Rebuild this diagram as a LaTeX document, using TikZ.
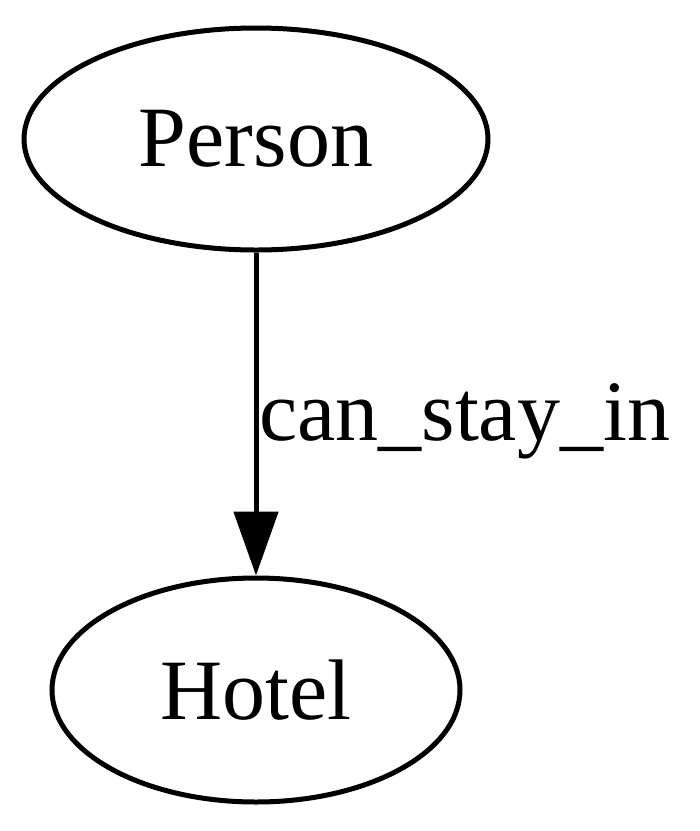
\documentclass[tikz,border=0pt]{standalone}
\usepackage{fontspec}
\setmainfont{Liberation Serif}
\usetikzlibrary{shapes.geometric,arrows.meta}
\begin{document}
\begin{tikzpicture}[x=1pt,y=-1pt,
  ent/.style={ellipse,draw=black,line width=5pt,inner sep=0pt,font=\fontsize{86}{100}\selectfont},
  rel/.style={draw=black,line width=5pt,-{Triangle[length=64pt,width=44pt]}},
  lbl/.style={font=\fontsize{86}{100}\selectfont,inner sep=0pt}]
\useasboundingbox (0,0) rectangle (700,831);
\node[ent,minimum width=464pt,minimum height=222pt] (person) at (256,139) {Person};
\node[ent,minimum width=408pt,minimum height=224pt] (hotel) at (256,690) {Hotel};
\draw[rel] (person) -- (hotel);
\node[lbl,anchor=base west] (l) at (259,440) {can\_stay\_in};
\end{tikzpicture}
\end{document}
